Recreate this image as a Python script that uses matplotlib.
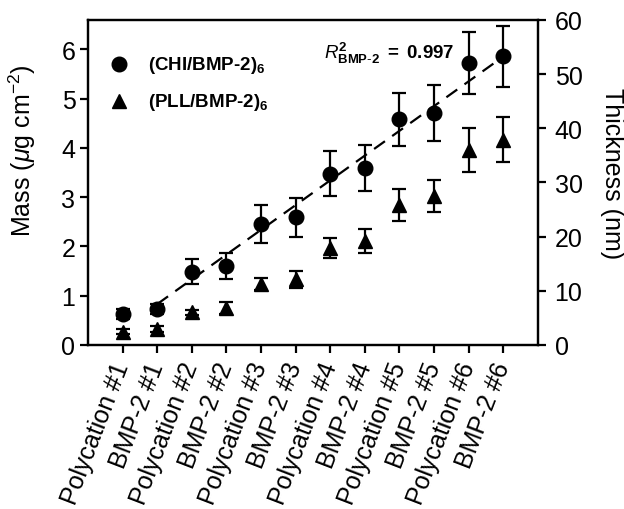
import matplotlib
matplotlib.use("Agg")
import matplotlib.pyplot as plt

plt.rcParams['font.family'] = ['Liberation Sans', 'DejaVu Sans']
plt.rcParams['mathtext.fontset'] = 'custom'
plt.rcParams['mathtext.rm'] = 'Liberation Sans'
plt.rcParams['mathtext.it'] = 'Liberation Sans:italic'
plt.rcParams['mathtext.bf'] = 'Liberation Sans:bold'

categories = ["Polycation #1", "BMP-2 #1", "Polycation #2", "BMP-2 #2",
              "Polycation #3", "BMP-2 #3", "Polycation #4", "BMP-2 #4",
              "Polycation #5", "BMP-2 #5", "Polycation #6", "BMP-2 #6"]
chi_mass = [0.63, 0.73, 1.49, 1.60, 2.46, 2.59, 3.48, 3.60, 4.58, 4.71, 5.73, 5.86]
chi_err = [0.10, 0.11, 0.25, 0.26, 0.39, 0.40, 0.46, 0.47, 0.53, 0.57, 0.63, 0.62]
pll_mass = [0.27, 0.33, 0.66, 0.75, 1.24, 1.33, 1.97, 2.11, 2.84, 3.02, 3.96, 4.17]
pll_err = [0.05, 0.06, 0.05, 0.12, 0.12, 0.17, 0.21, 0.25, 0.33, 0.33, 0.45, 0.45]
fit_x = [2, 11.75]
fit_y = [0.83, 5.73]
legend_labels = [r"(CHI/BMP-2)$_{\mathbf{6}}$", r"(PLL/BMP-2)$_{\mathbf{6}}$"]
legend_y = [5.70, 4.95]
r2_text = r"$\mathit{R}^{\mathbf{2}}_{\mathbf{BMP\text{-}2}}$" + r"$\mathbf{\ =\ 0.997}$"

fig = plt.figure(figsize=(6.24, 5.10), dpi=100)
ax = fig.add_axes([0.141, 0.3216, 0.721, 0.6374])
x = list(range(1, len(categories) + 1))

ax.plot(fit_x, fit_y, color='black', lw=1.6, dashes=(6, 4), zorder=2)
ax.errorbar(x, chi_mass, yerr=chi_err, fmt='o', color='black', ms=10.5,
            elinewidth=1.6, capsize=5, capthick=1.6, zorder=3)
ax.errorbar(x, pll_mass, yerr=pll_err, fmt='^', color='black', ms=9.5,
            elinewidth=1.6, capsize=5, capthick=1.6, zorder=3)

ax.set_xlim(0, 13)
ax.set_ylim(0, 6.6)
ax.set_xticks(x)
ax.set_xticklabels(categories, rotation=69, ha='right', va='center',
                   rotation_mode='anchor', fontsize=17)
ax.set_yticks(range(0, 7))
ax.tick_params(axis='both', direction='out', length=6, width=1.6, labelsize=18)
ax.tick_params(axis='y', pad=3)
ax.tick_params(axis='x', pad=7)
ax.set_ylabel(r"Mass ($\mu$g cm$^{-2}$)", fontsize=18)
ax.yaxis.set_label_coords(-0.112, 0.60)
for s in ax.spines.values():
    s.set_linewidth(1.6)

ax2 = ax.twinx()
ax2.set_ylim(0, 60)
ax2.set_yticks(range(0, 61, 10))
ax2.tick_params(axis='y', direction='out', length=6, width=1.6, labelsize=18, pad=6)
ax2.set_ylabel("Thickness (nm)", fontsize=18, rotation=270, va='center')
ax2.yaxis.set_label_coords(1.165, 0.53)
for s in ax2.spines.values():
    s.set_linewidth(1.6)

# legend (manual, no frame)
ax.plot([0.89], [legend_y[0]], 'o', color='black', ms=10.5)
ax.plot([0.89], [legend_y[1]], '^', color='black', ms=9.5)
ax.text(1.72, legend_y[0], legend_labels[0], fontsize=13.5, fontweight='bold', va='center')
ax.text(1.72, legend_y[1], legend_labels[1], fontsize=13.5, fontweight='bold', va='center')

ax.text(6.82, 5.93, r2_text, fontsize=13.5, va='center')

fig.savefig("out.png", dpi=100)
